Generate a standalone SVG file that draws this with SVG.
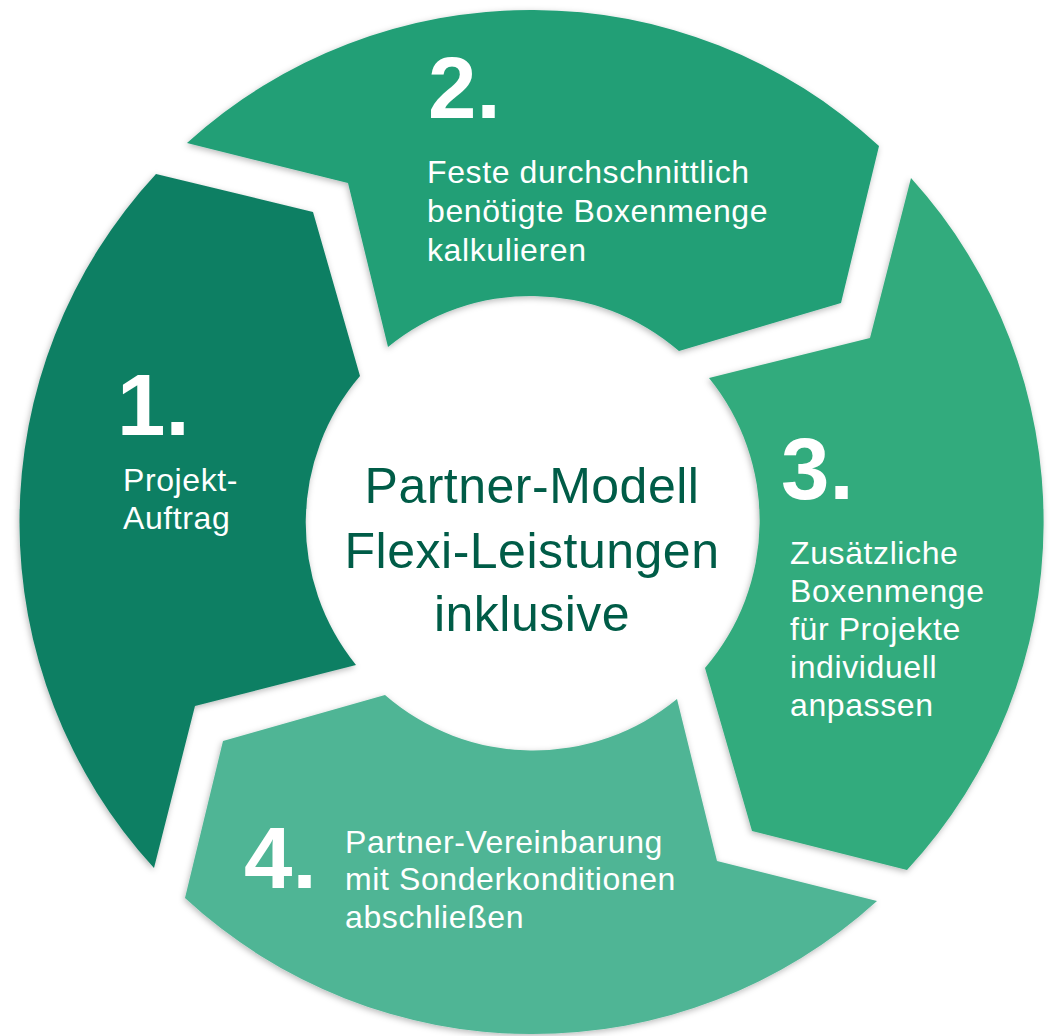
<svg xmlns="http://www.w3.org/2000/svg" width="1050" height="1036" viewBox="0 0 1050 1036">
  <defs>
    <filter id="shadow" x="-10%" y="-10%" width="120%" height="120%">
      <feDropShadow dx="-1" dy="2" stdDeviation="3" flood-color="#000" flood-opacity="0.28"/>
    </filter>
  </defs>
  <style>
    .seg { filter: url(#shadow); }
    .num { font-family: "Liberation Sans", Arial, sans-serif; font-weight: bold; font-size: 87px; fill: #ffffff; }
    .body { font-family: "Liberation Sans", Arial, sans-serif; font-size: 32px; fill: #ffffff; letter-spacing: 0.6px; }
    .center { font-family: "Liberation Sans", Arial, sans-serif; font-size: 50px; fill: #005C47; letter-spacing: 0.5px; text-anchor: middle; }
  </style>
  <rect width="1050" height="1036" fill="#ffffff"/>

  <g id="step1">
    <path class="seg" fill="#0F7F63" d="M 156,174 L 313,212 L 360,376 A 226 226 0 0 0 356,665 L 195,706 L 154,868 A 512 512 0 0 1 156,174 Z"/>
    <text class="num" x="117" y="435">1.</text>
    <text class="body" x="123" y="491">Projekt-</text>
    <text class="body" x="123" y="529">Auftrag</text>
  </g>

  <g id="step2">
    <path class="seg" fill="#209F76" d="M 187,143 L 348,183 L 388,347 A 226 226 0 0 1 679,351 L 841,303 L 879,146 A 512 512 0 0 0 187,143 Z"/>
    <text class="num" x="428" y="118">2.</text>
    <text class="body" x="427" y="183">Feste durchschnittlich</text>
    <text class="body" x="427" y="222">benötigte Boxenmenge</text>
    <text class="body" x="427" y="261">kalkulieren</text>
  </g>

  <g id="step3">
    <path class="seg" fill="#33AB7D" d="M 911,178 L 870,338 L 709,378 A 226 226 0 0 1 705,668 L 752,831 L 907,870 A 512 512 0 0 0 911,178 Z"/>
    <text class="num" x="781" y="499">3.</text>
    <text class="body" x="790" y="564">Zusätzliche</text>
    <text class="body" x="790" y="602">Boxenmenge</text>
    <text class="body" x="790" y="640">für Projekte</text>
    <text class="body" x="790" y="678">individuell</text>
    <text class="body" x="790" y="716">anpassen</text>
  </g>

  <g id="step4">
    <path class="seg" fill="#4FB595" d="M 877,901 L 717,861 L 677,699 A 226 226 0 0 1 385,695 L 223,741 L 185,898 A 512 512 0 0 0 877,901 Z"/>
    <text class="num" x="244" y="888">4.</text>
    <text class="body" x="345" y="853">Partner-Vereinbarung</text>
    <text class="body" x="345" y="890">mit Sonderkonditionen</text>
    <text class="body" x="345" y="928">abschließen</text>
  </g>

  <g id="hub">
    <text class="center" x="532" y="503">Partner-Modell</text>
    <text class="center" x="532" y="568">Flexi-Leistungen</text>
    <text class="center" x="532" y="631">inklusive</text>
  </g>

  <g id="connectors"></g>
</svg>
